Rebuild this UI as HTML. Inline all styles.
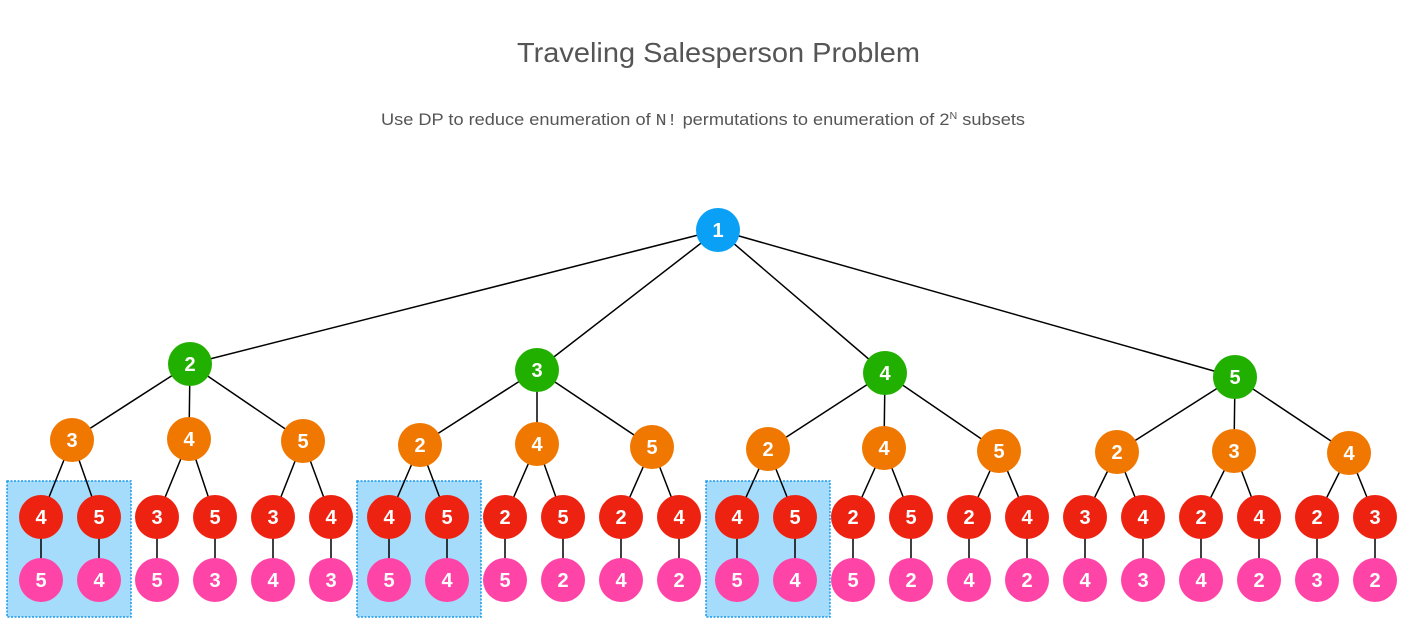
<!DOCTYPE html>
<html><head><meta charset="utf-8"><style>
html,body{margin:0;padding:0;background:#fff;}
svg{display:block;}
.t{font-family:"Liberation Sans",Arial,sans-serif;}
.n{font-family:"Liberation Sans",Arial,sans-serif;font-weight:bold;font-size:20px;fill:#fff;text-anchor:middle;dominant-baseline:central;}
</style></head><body>
<svg width="1411" height="638" viewBox="0 0 1411 638" xmlns="http://www.w3.org/2000/svg">
<text x="517" y="62" class="t" font-size="28" fill="#555" textLength="403" lengthAdjust="spacingAndGlyphs">Traveling Salesperson Problem</text>
<text x="381" y="125" class="t" font-size="17" fill="#555" textLength="644" lengthAdjust="spacingAndGlyphs">Use DP to reduce enumeration of <tspan font-family="Liberation Mono,monospace">N!</tspan> permutations to enumeration of 2<tspan font-size="10" dy="-6">N</tspan><tspan dy="6"> subsets</tspan></text>
<g fill="#a5dcfb" stroke="#1a9ae8" stroke-width="1.5" stroke-dasharray="2,1.5">
<rect x="7" y="481" width="124" height="136"/>
<rect x="357" y="481" width="124" height="136"/>
<rect x="706" y="481" width="124" height="136"/>
</g>
<g stroke="#000" stroke-width="1.5">
<line x1="718" y1="230" x2="190" y2="364"/><line x1="718" y1="230" x2="537" y2="370"/><line x1="718" y1="230" x2="885" y2="373"/><line x1="718" y1="230" x2="1235" y2="377"/>
<line x1="190" y1="364" x2="72" y2="440"/><line x1="190" y1="364" x2="189" y2="439"/><line x1="190" y1="364" x2="303" y2="441"/>
<line x1="537" y1="370" x2="420" y2="445"/><line x1="537" y1="370" x2="537" y2="444"/><line x1="537" y1="370" x2="652" y2="447"/>
<line x1="885" y1="373" x2="768" y2="449"/><line x1="885" y1="373" x2="884" y2="448"/><line x1="885" y1="373" x2="999" y2="451"/>
<line x1="1235" y1="377" x2="1117" y2="452"/><line x1="1235" y1="377" x2="1234" y2="451"/><line x1="1235" y1="377" x2="1349" y2="453"/>
<line x1="72" y1="440" x2="41" y2="517"/><line x1="72" y1="440" x2="99" y2="517"/>
<line x1="189" y1="439" x2="157" y2="517"/><line x1="189" y1="439" x2="215" y2="517"/>
<line x1="303" y1="441" x2="273" y2="517"/><line x1="303" y1="441" x2="331" y2="517"/>
<line x1="420" y1="445" x2="389" y2="517"/><line x1="420" y1="445" x2="447" y2="517"/>
<line x1="537" y1="444" x2="505" y2="517"/><line x1="537" y1="444" x2="563" y2="517"/>
<line x1="652" y1="447" x2="621" y2="517"/><line x1="652" y1="447" x2="679" y2="517"/>
<line x1="768" y1="449" x2="737" y2="517"/><line x1="768" y1="449" x2="795" y2="517"/>
<line x1="884" y1="448" x2="853" y2="517"/><line x1="884" y1="448" x2="911" y2="517"/>
<line x1="999" y1="451" x2="969" y2="517"/><line x1="999" y1="451" x2="1027" y2="517"/>
<line x1="1117" y1="452" x2="1085" y2="517"/><line x1="1117" y1="452" x2="1143" y2="517"/>
<line x1="1234" y1="451" x2="1201" y2="517"/><line x1="1234" y1="451" x2="1259" y2="517"/>
<line x1="1349" y1="453" x2="1317" y2="517"/><line x1="1349" y1="453" x2="1375" y2="517"/>
<line x1="41" y1="517" x2="41" y2="580"/><line x1="99" y1="517" x2="99" y2="580"/><line x1="157" y1="517" x2="157" y2="580"/><line x1="215" y1="517" x2="215" y2="580"/><line x1="273" y1="517" x2="273" y2="580"/><line x1="331" y1="517" x2="331" y2="580"/><line x1="389" y1="517" x2="389" y2="580"/><line x1="447" y1="517" x2="447" y2="580"/><line x1="505" y1="517" x2="505" y2="580"/><line x1="563" y1="517" x2="563" y2="580"/><line x1="621" y1="517" x2="621" y2="580"/><line x1="679" y1="517" x2="679" y2="580"/><line x1="737" y1="517" x2="737" y2="580"/><line x1="795" y1="517" x2="795" y2="580"/><line x1="853" y1="517" x2="853" y2="580"/><line x1="911" y1="517" x2="911" y2="580"/><line x1="969" y1="517" x2="969" y2="580"/><line x1="1027" y1="517" x2="1027" y2="580"/><line x1="1085" y1="517" x2="1085" y2="580"/><line x1="1143" y1="517" x2="1143" y2="580"/><line x1="1201" y1="517" x2="1201" y2="580"/><line x1="1259" y1="517" x2="1259" y2="580"/><line x1="1317" y1="517" x2="1317" y2="580"/><line x1="1375" y1="517" x2="1375" y2="580"/>
</g>
<circle cx="718" cy="230" r="22" fill="#0aa0f5"/><text x="718" y="231" class="n">1</text>
<g fill="#22b000">
<circle cx="190" cy="364" r="22"/><circle cx="537" cy="370" r="22"/><circle cx="885" cy="373" r="22"/><circle cx="1235" cy="377" r="22"/>
</g>
<text x="190" y="365" class="n">2</text><text x="537" y="371" class="n">3</text><text x="885" y="374" class="n">4</text><text x="1235" y="378" class="n">5</text>
<g fill="#f07800">
<circle cx="72" cy="440" r="22"/><circle cx="189" cy="439" r="22"/><circle cx="303" cy="441" r="22"/><circle cx="420" cy="445" r="22"/><circle cx="537" cy="444" r="22"/><circle cx="652" cy="447" r="22"/><circle cx="768" cy="449" r="22"/><circle cx="884" cy="448" r="22"/><circle cx="999" cy="451" r="22"/><circle cx="1117" cy="452" r="22"/><circle cx="1234" cy="451" r="22"/><circle cx="1349" cy="453" r="22"/>
</g>
<text x="72" y="441" class="n">3</text><text x="189" y="440" class="n">4</text><text x="303" y="442" class="n">5</text><text x="420" y="446" class="n">2</text><text x="537" y="445" class="n">4</text><text x="652" y="448" class="n">5</text><text x="768" y="450" class="n">2</text><text x="884" y="449" class="n">4</text><text x="999" y="452" class="n">5</text><text x="1117" y="453" class="n">2</text><text x="1234" y="452" class="n">3</text><text x="1349" y="454" class="n">4</text>
<g fill="#ee2211">
<circle cx="41" cy="517" r="22"/><circle cx="99" cy="517" r="22"/><circle cx="157" cy="517" r="22"/><circle cx="215" cy="517" r="22"/><circle cx="273" cy="517" r="22"/><circle cx="331" cy="517" r="22"/><circle cx="389" cy="517" r="22"/><circle cx="447" cy="517" r="22"/><circle cx="505" cy="517" r="22"/><circle cx="563" cy="517" r="22"/><circle cx="621" cy="517" r="22"/><circle cx="679" cy="517" r="22"/><circle cx="737" cy="517" r="22"/><circle cx="795" cy="517" r="22"/><circle cx="853" cy="517" r="22"/><circle cx="911" cy="517" r="22"/><circle cx="969" cy="517" r="22"/><circle cx="1027" cy="517" r="22"/><circle cx="1085" cy="517" r="22"/><circle cx="1143" cy="517" r="22"/><circle cx="1201" cy="517" r="22"/><circle cx="1259" cy="517" r="22"/><circle cx="1317" cy="517" r="22"/><circle cx="1375" cy="517" r="22"/>
</g>
<g fill="#ff44a8">
<circle cx="41" cy="580" r="22"/><circle cx="99" cy="580" r="22"/><circle cx="157" cy="580" r="22"/><circle cx="215" cy="580" r="22"/><circle cx="273" cy="580" r="22"/><circle cx="331" cy="580" r="22"/><circle cx="389" cy="580" r="22"/><circle cx="447" cy="580" r="22"/><circle cx="505" cy="580" r="22"/><circle cx="563" cy="580" r="22"/><circle cx="621" cy="580" r="22"/><circle cx="679" cy="580" r="22"/><circle cx="737" cy="580" r="22"/><circle cx="795" cy="580" r="22"/><circle cx="853" cy="580" r="22"/><circle cx="911" cy="580" r="22"/><circle cx="969" cy="580" r="22"/><circle cx="1027" cy="580" r="22"/><circle cx="1085" cy="580" r="22"/><circle cx="1143" cy="580" r="22"/><circle cx="1201" cy="580" r="22"/><circle cx="1259" cy="580" r="22"/><circle cx="1317" cy="580" r="22"/><circle cx="1375" cy="580" r="22"/>
</g>
<text x="41" y="518" class="n">4</text><text x="99" y="518" class="n">5</text><text x="157" y="518" class="n">3</text><text x="215" y="518" class="n">5</text><text x="273" y="518" class="n">3</text><text x="331" y="518" class="n">4</text><text x="389" y="518" class="n">4</text><text x="447" y="518" class="n">5</text><text x="505" y="518" class="n">2</text><text x="563" y="518" class="n">5</text><text x="621" y="518" class="n">2</text><text x="679" y="518" class="n">4</text><text x="737" y="518" class="n">4</text><text x="795" y="518" class="n">5</text><text x="853" y="518" class="n">2</text><text x="911" y="518" class="n">5</text><text x="969" y="518" class="n">2</text><text x="1027" y="518" class="n">4</text><text x="1085" y="518" class="n">3</text><text x="1143" y="518" class="n">4</text><text x="1201" y="518" class="n">2</text><text x="1259" y="518" class="n">4</text><text x="1317" y="518" class="n">2</text><text x="1375" y="518" class="n">3</text>
<text x="41" y="581" class="n">5</text><text x="99" y="581" class="n">4</text><text x="157" y="581" class="n">5</text><text x="215" y="581" class="n">3</text><text x="273" y="581" class="n">4</text><text x="331" y="581" class="n">3</text><text x="389" y="581" class="n">5</text><text x="447" y="581" class="n">4</text><text x="505" y="581" class="n">5</text><text x="563" y="581" class="n">2</text><text x="621" y="581" class="n">4</text><text x="679" y="581" class="n">2</text><text x="737" y="581" class="n">5</text><text x="795" y="581" class="n">4</text><text x="853" y="581" class="n">5</text><text x="911" y="581" class="n">2</text><text x="969" y="581" class="n">4</text><text x="1027" y="581" class="n">2</text><text x="1085" y="581" class="n">4</text><text x="1143" y="581" class="n">3</text><text x="1201" y="581" class="n">4</text><text x="1259" y="581" class="n">2</text><text x="1317" y="581" class="n">3</text><text x="1375" y="581" class="n">2</text>
</svg>
</body></html>
